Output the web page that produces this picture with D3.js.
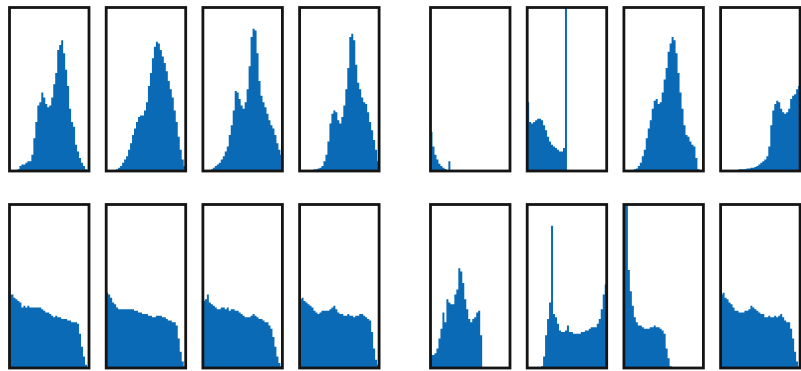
<!DOCTYPE html>
<html>
<head>
<meta charset="utf-8">
<script src="https://cdn.jsdelivr.net/npm/d3@7"></script>
<style>
  html, body { margin: 0; padding: 0; background: #fff; overflow: hidden; }
  svg { display: block; }
</style>
</head>
<body>
<svg id="chart" width="801" height="371"></svg>
<script>
// Normalised bin heights (fraction of the panel height), 40 bins per panel.
// Top row, left group
const hist01 = [0,0,0,0,0.01,0.03,0.04,0.04,0.05,0.06,0.06,0.10,0.20,0.30,0.40,0.42,0.48,0.45,0.41,0.39,0.40,0.45,0.53,0.60,0.74,0.77,0.80,0.72,0.62,0.52,0.38,0.30,0.27,0.16,0.12,0.08,0.05,0.03,0.01,0];
const hist02 = [0,0,0,0,0.005,0.01,0.02,0.03,0.05,0.07,0.09,0.13,0.17,0.22,0.26,0.30,0.33,0.34,0.34,0.37,0.42,0.52,0.60,0.69,0.76,0.79,0.78,0.74,0.70,0.66,0.61,0.55,0.50,0.45,0.37,0.30,0.21,0.13,0.07,0.03];
const hist03 = [0,0,0,0.005,0.01,0.02,0.03,0.04,0.05,0.07,0.09,0.12,0.15,0.22,0.28,0.37,0.49,0.48,0.44,0.40,0.38,0.42,0.50,0.64,0.82,0.87,0.86,0.72,0.55,0.46,0.42,0.39,0.35,0.31,0.28,0.26,0.22,0.17,0.13,0.10];
const hist04 = [0,0,0,0,0,0.003,0.005,0.01,0.01,0.015,0.02,0.03,0.06,0.10,0.18,0.29,0.35,0.37,0.36,0.31,0.29,0.33,0.40,0.50,0.63,0.82,0.84,0.80,0.65,0.54,0.50,0.45,0.42,0.41,0.36,0.30,0.25,0.19,0.13,0.06];
// Top row, right group
const hist05 = [0.24,0.15,0.10,0.07,0.045,0.03,0.02,0.012,0.006,0.06,0,0,0,0,0,0,0,0,0,0,0,0,0,0,0,0,0,0,0,0,0,0,0,0,0,0,0,0,0,0];
const hist06 = [0.42,0.30,0.29,0.30,0.31,0.32,0.32,0.31,0.28,0.25,0.21,0.18,0.16,0.15,0.14,0.13,0.12,0.12,0.14,1.05,0,0,0,0,0,0,0,0,0,0,0,0,0,0,0,0,0,0,0,0];
const hist07 = [0,0,0,0,0.005,0.01,0.015,0.03,0.05,0.09,0.13,0.20,0.26,0.31,0.38,0.43,0.44,0.41,0.42,0.48,0.56,0.63,0.73,0.78,0.82,0.80,0.72,0.60,0.48,0.38,0.28,0.22,0.21,0.18,0.16,0.15,0.08,0.01,0,0];
const hist08 = [0,0,0,0,0,0,0,0,0.003,0.01,0.01,0.01,0.01,0.015,0.015,0.02,0.02,0.025,0.03,0.04,0.05,0.06,0.07,0.09,0.15,0.28,0.37,0.41,0.43,0.42,0.38,0.36,0.35,0.36,0.38,0.44,0.46,0.47,0.50,0.52];
// Bottom row, left group
const hist09 = [0.45,0.45,0.43,0.42,0.41,0.40,0.37,0.38,0.37,0.38,0.37,0.37,0.37,0.37,0.37,0.37,0.36,0.35,0.34,0.34,0.33,0.32,0.31,0.32,0.31,0.31,0.30,0.30,0.30,0.29,0.29,0.28,0.28,0.28,0.27,0.21,0.13,0.07,0.02,0];
const hist10 = [0.46,0.45,0.43,0.40,0.39,0.37,0.36,0.36,0.36,0.36,0.36,0.36,0.36,0.36,0.35,0.35,0.34,0.34,0.33,0.33,0.33,0.32,0.32,0.31,0.31,0.32,0.32,0.32,0.31,0.31,0.30,0.29,0.29,0.28,0.28,0.26,0.18,0.10,0.04,0.01];
const hist11 = [0.41,0.42,0.45,0.40,0.39,0.38,0.37,0.36,0.36,0.37,0.37,0.36,0.37,0.35,0.36,0.36,0.35,0.35,0.34,0.33,0.32,0.31,0.31,0.31,0.32,0.33,0.32,0.31,0.30,0.30,0.29,0.28,0.28,0.26,0.24,0.19,0.13,0.07,0.03,0.01];
const hist12 = [0.42,0.43,0.41,0.40,0.39,0.38,0.37,0.35,0.34,0.33,0.34,0.35,0.35,0.35,0.35,0.36,0.37,0.38,0.36,0.34,0.33,0.33,0.32,0.32,0.33,0.32,0.32,0.31,0.32,0.32,0.33,0.33,0.32,0.31,0.30,0.29,0.22,0.12,0.05,0.02];
// Bottom row, right group
const hist13 = [0.08,0.08,0.09,0.12,0.18,0.24,0.34,0.28,0.42,0.40,0.39,0.39,0.45,0.48,0.61,0.59,0.52,0.42,0.36,0.30,0.28,0.30,0.31,0.34,0.35,0.20,0,0,0,0,0,0,0,0,0,0,0,0,0,0];
const hist14 = [0,0,0,0,0,0,0,0.01,0.07,0.20,0.30,0.40,0.87,0.33,0.31,0.27,0.23,0.22,0.22,0.23,0.26,0.22,0.22,0.21,0.21,0.21,0.21,0.22,0.22,0.23,0.23,0.24,0.25,0.25,0.25,0.27,0.30,0.36,0.45,0.51];
const hist15 = [1.2,1.2,0.60,0.47,0.38,0.31,0.28,0.26,0.26,0.25,0.24,0.24,0.24,0.25,0.25,0.26,0.25,0.25,0.24,0.23,0.21,0.12,0.06,0.01,0,0,0,0,0,0,0,0,0,0,0,0,0,0,0,0];
const hist16 = [0.45,0.46,0.43,0.42,0.40,0.39,0.37,0.35,0.35,0.34,0.34,0.34,0.35,0.35,0.36,0.38,0.37,0.36,0.35,0.34,0.33,0.33,0.31,0.31,0.32,0.31,0.31,0.32,0.31,0.32,0.33,0.31,0.29,0.28,0.28,0.24,0.18,0.10,0.04,0.01];

const panels = [
  [hist01, hist02, hist03, hist04, hist05, hist06, hist07, hist08],
  [hist09, hist10, hist11, hist12, hist13, hist14, hist15, hist16]
];

// Grid geometry: two rows, two groups of four panels each
const groupStarts = [9.5, 430.5];
const pitch = 96.7;
const panelW = 79.5;
const rowTops = [7.5, 204.5];
const panelH = 163.5;
const barColor = "#0a6ab6";
const frameColor = "#141414";

const svg = d3.select("#chart");
const defs = svg.append("defs");

// Each histogram is drawn as one stepped area so adjacent bins join without seams
const stepArea = d3.area()
  .curve(d3.curveStepAfter);

panels.forEach((row, r) => {
  row.forEach((values, c) => {
    const left = groupStarts[Math.floor(c / 4)] + (c % 4) * pitch;
    const top = rowTops[r];
    const id = `clip-${r}-${c}`;

    defs.append("clipPath").attr("id", id)
      .append("rect")
      .attr("x", left).attr("y", top)
      .attr("width", panelW).attr("height", panelH);

    const x = d3.scaleLinear().domain([0, values.length]).range([left, left + panelW]);
    const y = d3.scaleLinear().domain([0, 1]).range([top + panelH, top]);

    // bin edges: value of bin i holds from edge i to edge i+1
    const steps = values.map((v, i) => [i, v]).concat([[values.length, values[values.length - 1]]]);
    stepArea
      .x(d => x(d[0]))
      .y0(y(0))
      .y1(d => y(d[1]));

    const g = svg.append("g");
    g.append("path")
      .attr("clip-path", `url(#${id})`)
      .attr("d", stepArea(steps))
      .attr("fill", barColor);

    g.append("rect")
      .attr("x", left).attr("y", top)
      .attr("width", panelW).attr("height", panelH)
      .attr("fill", "none")
      .attr("stroke", frameColor)
      .attr("stroke-width", 2.8);
  });
});
</script>
</body>
</html>
